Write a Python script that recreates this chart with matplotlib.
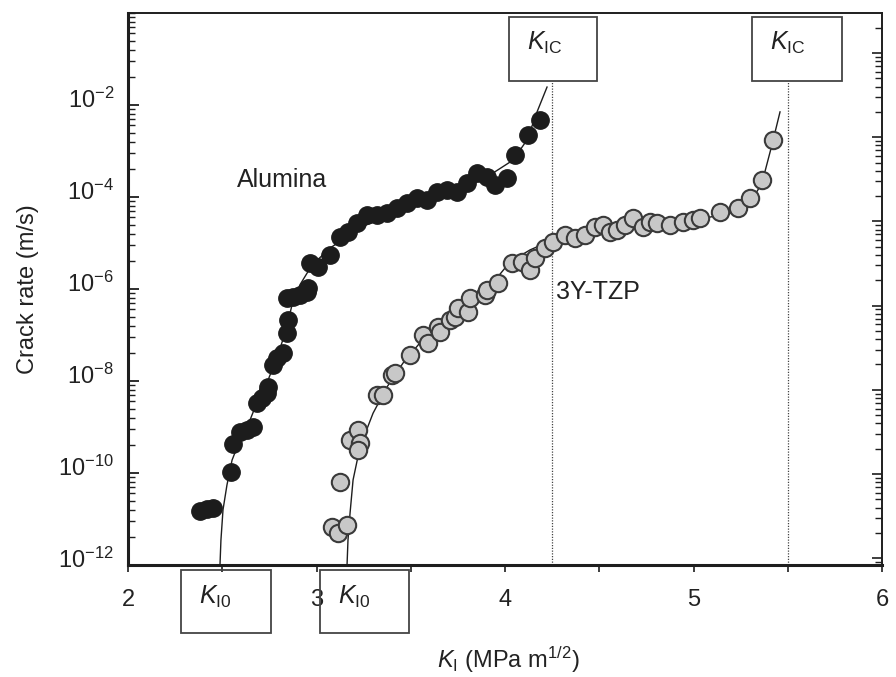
import numpy as np
import matplotlib
matplotlib.use("Agg")
import matplotlib.pyplot as plt
from matplotlib.patches import Rectangle
from matplotlib.ticker import FixedLocator, NullFormatter, LogLocator
import matplotlib.transforms as mtransforms

plt.rcParams['font.family'] = ['Liberation Sans', 'DejaVu Sans']
plt.rcParams['mathtext.fontset'] = 'custom'
plt.rcParams['mathtext.rm'] = 'Liberation Sans'
plt.rcParams['mathtext.it'] = 'Liberation Sans:italic'
plt.rcParams['mathtext.bf'] = 'Liberation Sans:bold'

# ---------------- data (K_I in MPa m^1/2, log10 crack rate in m/s) ----------------
alumina_K = [2.382, 2.419, 2.451, 2.546, 2.557, 2.594, 2.631, 2.663, 2.684, 2.711,
             2.737, 2.743, 2.769, 2.790, 2.822, 2.844, 2.849, 2.844, 2.875, 2.912,
             2.950, 2.955, 2.966, 3.008, 3.072, 3.125, 3.167, 3.215, 3.268, 3.321,
             3.374, 3.427, 3.480, 3.533, 3.586, 3.639, 3.692, 3.745, 3.798, 3.851,
             3.905, 3.947, 4.011, 4.053, 4.122, 4.186]
alumina_logv = [-10.83, -10.78, -10.76, -9.98, -9.37, -9.11, -9.07, -9.00, -8.48, -8.37,
                -8.26, -8.13, -7.65, -7.50, -7.39, -6.96, -6.67, -6.20, -6.17, -6.13,
                -6.07, -5.98, -5.43, -5.52, -5.26, -4.87, -4.76, -4.57, -4.39, -4.39,
                -4.35, -4.24, -4.13, -4.02, -4.07, -3.89, -3.85, -3.89, -3.70, -3.48,
                -3.57, -3.74, -3.59, -3.09, -2.65, -2.33]

tzp_K = [3.082, 3.114, 3.162, 3.125, 3.178, 3.220, 3.231, 3.220, 3.321, 3.353,
         3.401, 3.416, 3.496, 3.565, 3.592, 3.645, 3.655, 3.708, 3.735, 3.751,
         3.804, 3.814, 3.894, 3.905, 3.963, 4.037, 4.090, 4.133, 4.159, 4.212,
         4.255, 4.318, 4.371, 4.424, 4.477, 4.520, 4.557, 4.594, 4.637, 4.679,
         4.732, 4.769, 4.806, 4.875, 4.944, 4.997, 5.034, 5.141, 5.236, 5.300,
         5.363, 5.422]
tzp_logv = [-11.17, -11.30, -11.13, -10.20, -9.28, -9.07, -9.35, -9.50, -8.30, -8.30,
            -7.87, -7.83, -7.43, -7.00, -7.17, -6.83, -6.93, -6.67, -6.61, -6.41,
            -6.50, -6.20, -6.13, -6.02, -5.87, -5.43, -5.41, -5.59, -5.33, -5.11,
            -4.98, -4.83, -4.89, -4.83, -4.65, -4.61, -4.76, -4.72, -4.61, -4.46,
            -4.65, -4.54, -4.57, -4.61, -4.54, -4.50, -4.46, -4.33, -4.24, -4.02,
            -3.63, -2.76]

# fitted curves
alumina_fit_K = [2.488, 2.488, 2.493, 2.504, 2.525, 2.552, 2.594, 2.647, 2.690, 2.743,
                 2.796, 2.838, 2.870, 2.912, 2.976, 3.072, 3.231, 3.443, 3.655, 3.814,
                 3.936, 4.042, 4.117, 4.170, 4.223]
alumina_fit_logv = [-12.8, -12.0, -11.46, -10.80, -10.26, -9.72, -9.28, -8.85, -8.41, -7.98,
                    -7.43, -6.89, -6.35, -5.91, -5.48, -5.11, -4.67, -4.28, -3.98, -3.74,
                    -3.48, -3.20, -2.76, -2.15, -1.61]
tzp_fit_K = [3.162, 3.162, 3.167, 3.178, 3.194, 3.231, 3.300, 3.374, 3.459, 3.549,
             3.639, 3.724, 3.814, 3.905, 4.027, 4.133, 4.239, 4.398, 4.610, 4.822,
             5.034, 5.194, 5.300, 5.363, 5.416, 5.459]
tzp_fit_logv = [-12.8, -12.0, -11.46, -10.87, -10.15, -9.43, -8.70, -8.13, -7.61, -7.17,
                -6.89, -6.61, -6.30, -6.02, -5.41, -5.15, -4.96, -4.78, -4.65, -4.59,
                -4.48, -4.35, -4.13, -3.70, -2.87, -2.15]

KIC_values = [4.25, 5.5]
x_ticks = [2, 2.5, 3, 3.5, 4, 4.5, 5, 5.5, 6]
x_ticklabels = ['2', '', '3', '', '4', '', '5', '', '6']
y_ticks = [1e-12, 1e-10, 1e-8, 1e-6, 1e-4, 1e-2]
y_ticklabels = [r'$10^{-12}$', r'$10^{-10}$', r'$10^{-8}$', r'$10^{-6}$',
                r'$10^{-4}$', r'$10^{-2}$']

# ---------------- figure ----------------
fig = plt.figure(figsize=(8.96, 6.77), dpi=100)
ax = fig.add_axes([128/896, 1-565/677, (882-128)/896, (565-13)/677])

ink = '#1e1e1e'
ax.plot(alumina_fit_K, 10**np.array(alumina_fit_logv), color=ink, lw=1.0, zorder=2)
ax.plot(tzp_fit_K, 10**np.array(tzp_fit_logv), color=ink, lw=1.0, zorder=2)
ax.plot(alumina_K, 10**np.array(alumina_logv), 'o', ms=12.5, mfc='#1c1c1c',
        mec='#1c1c1c', mew=1.0, zorder=3)
ax.plot(tzp_K, 10**np.array(tzp_logv), 'o', ms=12.5, mfc='#c8c8c8',
        mec='#3a3a3a', mew=1.5, zorder=3)

ax.set_yscale('log')
ax.set_xlim(2, 6)
ax.set_ylim(1e-12, 1e0)

# dotted K_IC lines
frac_box_bottom = (565-81)/552
for k in KIC_values:
    ax.axvline(k, ymin=0, ymax=frac_box_bottom, color='#444444', lw=0.9,
               ls=(0, (1, 1.2)), zorder=1)

# ticks
ax.set_xticks(x_ticks)
ax.set_xticklabels(x_ticklabels)
ax.tick_params(axis='x', direction='out', length=5, width=1.2, color=ink,
               labelsize=17, pad=12, labelcolor='#222222')
ax.set_yticks(y_ticks)
ax.set_yticklabels(y_ticklabels)
minor = [1.0]
for m in range(-12, 0, 2):
    for kk in range(2, 10):
        minor.append(10.0**m * kk**2)
ax.yaxis.set_minor_locator(FixedLocator(minor))
ax.yaxis.set_minor_formatter(NullFormatter())
ax.tick_params(axis='y', which='major', direction='in', length=8, width=1.3,
               color=ink, labelsize=17, pad=10, labelcolor='#222222', right=False)
ax.tick_params(axis='y', which='minor', direction='in', length=5, width=1.0,
               color=ink, right=False)
ax.tick_params(axis='x', which='minor', bottom=False, top=False)
shift = mtransforms.ScaledTranslation(0, 7/100, fig.dpi_scale_trans)
for lab in ax.get_yticklabels():
    lab.set_transform(lab.get_transform() + shift)

for s in ['left', 'bottom']:
    ax.spines[s].set_linewidth(2.2)
    ax.spines[s].set_color(ink)
for s in ['top', 'right']:
    ax.spines[s].set_linewidth(1.4)
    ax.spines[s].set_color(ink)

# right-hand decorative log ticks
ax2 = ax.twinx()
ax2.set_yscale('log')
ax2.set_ylim(10**-6.08, 10**0.475)
ax2.yaxis.set_major_locator(LogLocator(base=10, numticks=20))
ax2.yaxis.set_minor_locator(LogLocator(base=10, subs=np.arange(2, 10), numticks=20))
ax2.yaxis.set_major_formatter(NullFormatter())
ax2.yaxis.set_minor_formatter(NullFormatter())
ax2.tick_params(axis='y', which='major', direction='in', length=7, width=1.2, color=ink)
ax2.tick_params(axis='y', which='minor', direction='in', length=5, width=1.0, color=ink)
for s in ax2.spines.values():
    s.set_visible(False)

# labels
ax.text(2.578, 10**-3.63, 'Alumina', fontsize=18, color='#222222', va='center', ha='left')
ax.text(4.27, 10**-6.07, '3Y-TZP', fontsize=18, color='#222222', va='center', ha='left')

ax.set_ylabel('Crack rate (m/s)', fontsize=17, color='#222222')
ax.yaxis.set_label_coords(-0.118, 0.5)
ax.set_xlabel(r'$K_{\mathrm{I}}$ (MPa m$^{1/2}$)', fontsize=17, color='#222222',
              va='center')
ax.xaxis.set_label_coords(0.505, -0.172)

# boxes
trans = mtransforms.blended_transform_factory(ax.transData, ax.transAxes)
top_boxes = [(4.021, 4.488), (5.310, 5.788)]
for (x0, x1) in top_boxes:
    ax.add_patch(Rectangle((x0, frac_box_bottom), x1 - x0, (565-17)/552 - frac_box_bottom,
                           transform=trans, fill=True, fc='white', ec='#444444', lw=1.3,
                           clip_on=False, zorder=5))
    ax.text(x0 + 0.095, (565-43)/552, r'$K_{\mathrm{IC}}$', transform=trans,
            fontsize=18, color='#222222', ha='left', va='center', zorder=6)

bottom_boxes = [(2.281, 2.759), (3.019, 3.491)]
for (x0, x1) in bottom_boxes:
    ax.add_patch(Rectangle((x0, -(633-565)/552), x1 - x0, (633-570)/552,
                           transform=trans, fill=False, ec='#444444', lw=1.3,
                           clip_on=False, zorder=5))
    ax.text(x0 + 0.095, -(597-565)/552, r'$K_{\mathrm{I0}}$', transform=trans,
            fontsize=18, color='#222222', ha='left', va='center', zorder=6)

fig.savefig('out.png', dpi=100)
